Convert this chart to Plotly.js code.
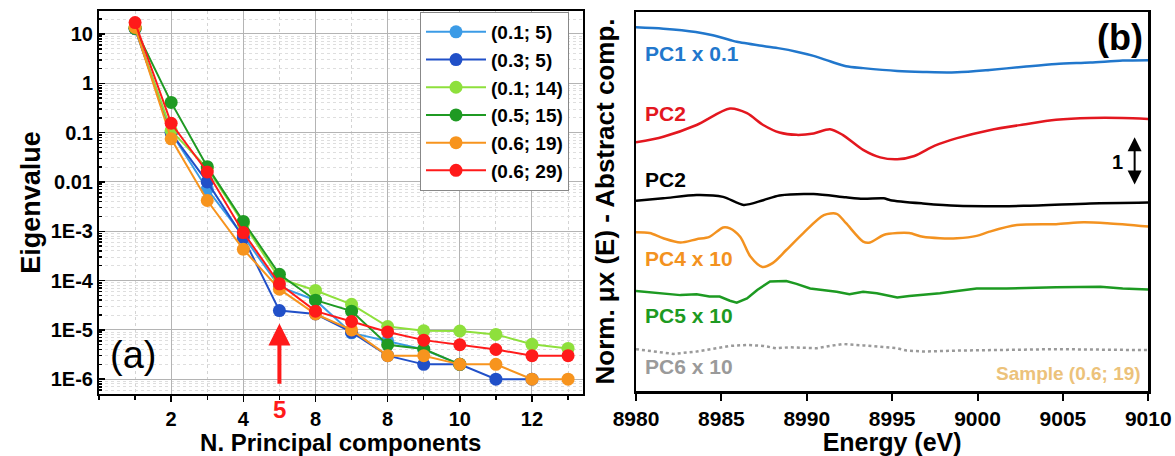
<!DOCTYPE html>
<html><head><meta charset="utf-8">
<script src="https://cdn.plot.ly/plotly-3.0.1.min.js"></script>
<style>html,body{margin:0;padding:0;background:#fff}#chart{width:1175px;height:456px}</style>
</head><body><div id="chart"></div>
<script>
// ---------- Panel (a): eigenvalues ----------
const nPC = [1,2,3,4,5,6,7,8,9,10,11,12,13];
const seriesNames = ['(0.1; 5)','(0.3; 5)','(0.1; 14)','(0.5; 15)','(0.6; 19)','(0.6; 29)'];
const seriesColors = ['#3b9be6','#2150c8','#8ee03c','#1f9a23','#f7941e','#ff1a1a'];
const eig01_5  = [13.0, 0.10, 0.0071, 8.0e-4, 7.5e-5, 4.0e-5, 8.7e-6, 6.0e-6, 4.0e-6, 2.0e-6];
const eig03_5  = [12.8, 0.098, 0.010, 7.4e-4, 2.46e-5, 2.1e-5, 9.0e-6, 3.0e-6, 2.0e-6, 2.0e-6, 1.0e-6, 1.0e-6];
const eig01_14 = [13.2, 0.11, 0.019, 1.4e-3, 1.1e-4, 6.3e-5, 3.3e-5, 1.17e-5, 9.6e-6, 9.5e-6, 8.1e-6, 5.1e-6, 4.2e-6];
const eig05_15 = [13.0, 0.41, 0.0204, 1.58e-3, 1.34e-4, 4.0e-5, 2.4e-5, 5.0e-6, 4.1e-6, 2.0e-6];
const eig06_19 = [13.6, 0.075, 0.0042, 4.3e-4, 6.7e-5, 2.1e-5, 1.0e-5, 3.0e-6, 3.0e-6, 2.0e-6, 2.0e-6, 1.0e-6, 1.0e-6];
const eig06_29 = [17.0, 0.155, 0.0159, 9.4e-4, 8.6e-5, 2.4e-5, 1.48e-5, 9.1e-6, 6.2e-6, 5.0e-6, 4.0e-6, 3.0e-6, 3.0e-6];
const eigSeries = [eig01_5, eig03_5, eig01_14, eig05_15, eig06_19, eig06_29];

const xTickVals = [2,4,6,8,10,12];
const xTickText = ['2','4','8','8','10','12'];
const yTickVals = [10,1,0.1,0.01,1e-3,1e-4,1e-5,1e-6];
const yTickText = ['10','1','0.1','0.01','1E-3','1E-4','1E-5','1E-6'];
const chosenPC = 5;

// ---------- Panel (b): abstract components ----------
const pc1E = [8980,8981.6,8983.5,8984.5,8985.5,8985.9,8987.45,8988.4,8989.4,8990.4,8991.4,8992.3,8993.3,8995.3,8996.8,8998.8,9000.7,9002.7,9004.6,9006.6,9008.5,9010];
const pc1Y = [7.74,7.71,7.64,7.57,7.47,7.43,7.34,7.29,7.22,7.13,7.01,6.91,6.87,6.81,6.79,6.78,6.83,6.90,6.96,6.99,7.03,7.04];
const pc2E = [8980,8981.6,8983.55,8985.5,8986.5,8987.45,8988.4,8989.4,8990.4,8991.36,8992.1,8993.3,8994.3,8995.3,8996.3,8997.5,8998.8,9000.7,9002.7,9004.6,9006.6,9008.5,9010];
const pc2Y = [5.29,5.41,5.66,6.01,5.91,5.66,5.50,5.45,5.48,5.57,5.45,5.13,4.97,4.93,5.00,5.22,5.38,5.55,5.67,5.77,5.81,5.81,5.79];
const pc3E = [8980,8981.6,8983.55,8985.1,8986.3,8987.45,8988.4,8990.4,8992.3,8993.3,8994.5,8994.9,8996.8,8998.8,9002.7,9006.6,9010];
const pc3Y = [4.05,4.10,4.17,4.13,3.96,4.06,4.16,4.19,4.12,4.09,4.10,4.06,3.99,3.94,3.94,3.99,4.01];
const pc4E = [8980,8980.8,8981.6,8982.6,8983.55,8984.3,8985.1,8985.5,8986.1,8986.7,8987.4,8988.0,8988.8,8989.8,8991.0,8991.75,8992.3,8993.3,8993.7,8994.5,8995.3,8996.0,8996.8,8997.8,8998.8,8999.95,9000.7,9002.3,9004.6,9006.2,9007.6,9010];
const pc4Y = [3.38,3.36,3.25,3.16,3.23,3.28,3.48,3.46,3.28,2.86,2.64,2.72,3.00,3.36,3.74,3.77,3.57,3.18,3.16,3.32,3.36,3.36,3.28,3.25,3.25,3.30,3.39,3.53,3.55,3.59,3.57,3.50];
const pc5E = [8980,8981.6,8982.6,8983.55,8984.3,8984.9,8985.5,8985.9,8986.5,8987.1,8987.85,8988.8,8989.4,8990.2,8991.0,8991.75,8992.5,8993.3,8994.1,8995.1,8995.3,8996.0,8996.8,8997.8,8998.8,8999.95,9001.7,9004.6,9007.2,9008.5,9010];
const pc5Y = [2.13,2.08,2.04,2.06,2.01,2.01,1.92,1.88,1.97,2.15,2.33,2.34,2.28,2.18,2.15,2.11,2.06,2.11,2.08,2.01,1.99,2.02,2.04,2.08,2.13,2.18,2.18,2.21,2.22,2.18,2.16];
const pc6E = [8980,8981.2,8982.2,8983.55,8984.7,8985.5,8986.5,8987.45,8988.2,8989.0,8989.8,8990.6,8991.4,8992.1,8993.3,8994.5,8995.3,8995.85,8996.8,8998.8,9000.7,9004.6,9010];
const pc6Y = [0.89,0.84,0.79,0.84,0.91,0.96,0.98,0.96,0.91,0.93,0.92,0.91,0.96,1.00,0.97,0.94,0.91,0.86,0.84,0.86,0.87,0.89,0.87];

const compCurves = [
  {E: pc1E, Y: pc1Y, color: '#2177cc', dash: 'solid', shape: 'spline', label: 'PC1 x 0.1', ly: 7.19},
  {E: pc2E, Y: pc2Y, color: '#e3171f', dash: 'solid', shape: 'spline', label: 'PC2', ly: 5.91},
  {E: pc3E, Y: pc3Y, color: '#000000', dash: 'solid', shape: 'spline', label: 'PC2', ly: 4.49},
  {E: pc4E, Y: pc4Y, color: '#f39220', dash: 'solid', shape: 'spline', label: 'PC4 x 10', ly: 2.81},
  {E: pc5E, Y: pc5Y, color: '#1d9a22', dash: 'solid', shape: 'linear', label: 'PC5 x 10', ly: 1.60},
  {E: pc6E, Y: pc6Y, color: '#9a9a9a', dash: 'dot', shape: 'linear', label: 'PC6 x 10', ly: 0.53}
];

const FONT = 'Liberation Sans, Arial, sans-serif';
const traces = [];
eigSeries.forEach((ys, i) => {
  traces.push({
    x: nPC.slice(0, ys.length), y: ys, type: 'scatter', mode: 'lines+markers',
    name: seriesNames[i], xaxis: 'x', yaxis: 'y',
    line: {color: seriesColors[i], width: 2},
    marker: {color: seriesColors[i], size: 13, symbol: 'circle'}
  });
});
compCurves.forEach(c => {
  traces.push({
    x: c.E, y: c.Y, type: 'scatter', mode: 'lines', showlegend: false,
    xaxis: 'x2', yaxis: 'y2',
    line: {color: c.color, width: 2.5, dash: c.dash, shape: c.shape, smoothing: 0.8}
  });
});

const annotations = [
  {text: '(a)', xref: 'paper', yref: 'paper', x: 108/1175, y: 1 - 355/456, xanchor: 'left', yanchor: 'middle',
   showarrow: false, font: {family: FONT, size: 38, color: '#000'}},
  {text: String(chosenPC), xref: 'x', yref: 'paper', x: chosenPC, y: 1 - 409/456, yanchor: 'middle',
   showarrow: false, font: {family: FONT, size: 24, color: '#ff1a1a', weight: 'bold'}},
  {text: '', xref: 'x', yref: 'y', x: chosenPC, y: Math.log10(1.35e-5), axref: 'x', ayref: 'y',
   ax: chosenPC, ay: Math.log10(7.5e-7), showarrow: true, arrowhead: 2, arrowsize: 1.1, arrowwidth: 4, arrowcolor: '#ff1a1a'},
  {text: '(b)', xref: 'x2', yref: 'y2', x: 9009.8, y: 7.52, xanchor: 'right', yanchor: 'middle',
   showarrow: false, font: {family: FONT, size: 36, color: '#000', weight: 'bold'}},
  {text: 'Sample (0.6; 19)', xref: 'x2', yref: 'y2', x: 9009.7, y: 0.38, xanchor: 'right', yanchor: 'middle',
   showarrow: false, font: {family: FONT, size: 19, color: '#ecc27a', weight: 'bold'}},
  {text: '1', xref: 'x2', yref: 'y2', x: 9008.2, y: 4.88, xanchor: 'center', yanchor: 'middle',
   showarrow: false, font: {family: FONT, size: 20, color: '#000', weight: 'bold'}},
  {text: '', xref: 'x2', yref: 'y2', x: 9009.2, y: 5.4, axref: 'x2', ayref: 'y2', ax: 9009.2, ay: 4.36,
   showarrow: true, arrowhead: 2, startarrowhead: 2, arrowside: 'end+start', arrowsize: 1.4, startarrowsize: 1.4, arrowwidth: 2, arrowcolor: '#000'}
];
compCurves.forEach(c => {
  annotations.push({text: c.label, xref: 'x2', yref: 'y2', x: 8980.4, y: c.ly, xanchor: 'left', yanchor: 'middle',
    showarrow: false, font: {family: FONT, size: 21, color: c.color === '#000000' ? '#000' : c.color, weight: 'bold'}});
});

const layout = {
  width: 1175, height: 456,
  margin: {l: 0, r: 0, t: 0, b: 0},
  paper_bgcolor: '#fff', plot_bgcolor: '#fff',
  font: {family: FONT, color: '#000'},
  showlegend: true,
  legend: {x: 420/1175, y: 1 - 12/456, xanchor: 'left', yanchor: 'top', bgcolor: '#fff',
    bordercolor: '#888', borderwidth: 1, font: {family: FONT, size: 19, weight: 'bold', color: '#000'},
    itemwidth: 60, tracegroupgap: 0},
  xaxis: {domain: [99/1175, 582.5/1175], range: [0, 13.4], anchor: 'y',
    tickmode: 'array', tickvals: xTickVals, ticktext: xTickText,
    ticks: 'outside', ticklen: 6, tickwidth: 1.5, tickcolor: '#000',
    ticklabelstandoff: 0,
    tickfont: {family: FONT, size: 20, weight: 'bold'},
    showline: true, linecolor: '#000', linewidth: 2, mirror: true,
    showgrid: true, gridcolor: '#b4b4b4', gridwidth: 1,
    minor: {dtick: 1, tick0: 0, ticks: 'outside', ticklen: 4, tickcolor: '#000', showgrid: true, gridcolor: '#d4d4d4', griddash: 'dot'},
    zeroline: false,
    title: {text: 'N. Principal components', font: {family: FONT, size: 24, weight: 'bold'}, standoff: 4}},
  yaxis: {domain: [1 - 394/456, 1 - 11/456], type: 'log', range: [-6.3, 1.466], anchor: 'x',
    tickmode: 'array', tickvals: yTickVals, ticktext: yTickText,
    ticks: 'inside', ticklen: 6, tickwidth: 1.5, tickcolor: '#000',
    tickfont: {family: FONT, size: 20, weight: 'bold'},
    showline: true, linecolor: '#000', linewidth: 2, mirror: true,
    showgrid: true, gridcolor: '#b4b4b4', gridwidth: 1,
    minor: {dtick: 'D1', ticks: 'inside', ticklen: 3, tickcolor: '#000', showgrid: true, gridcolor: '#dedede', griddash: 'dot'},
    zeroline: false,
    title: {text: 'Eigenvalue', font: {family: FONT, size: 27, weight: 'bold'}, standoff: 2}},
  xaxis2: {domain: [636/1175, 1148.3/1175], range: [8980, 9010], anchor: 'y2',
    tickmode: 'linear', tick0: 8980, dtick: 5,
    ticks: 'outside', ticklen: 7, tickwidth: 2, tickcolor: '#000',
    ticklabelstandoff: 0,
    tickfont: {family: FONT, size: 21, weight: 'bold'},
    showline: true, linecolor: '#000', linewidth: 2.5, mirror: true,
    showgrid: false, zeroline: false,
    title: {text: 'Energy (eV)', font: {family: FONT, size: 25, weight: 'bold'}, standoff: 6}},
  yaxis2: {domain: [1 - 391/456, 1 - 12/456], range: [0, 8.064], anchor: 'x2',
    showticklabels: false, ticks: '',
    showline: true, linecolor: '#000', linewidth: 2.5, mirror: true,
    showgrid: false, zeroline: false,
    title: {text: 'Norm. μx (E) - Abstract comp.', font: {family: FONT, size: 26, weight: 'bold'}, standoff: 12}},
  annotations: annotations
};

Plotly.newPlot('chart', traces, layout, {displayModeBar: false, staticPlot: true});
</script>
</body></html>
